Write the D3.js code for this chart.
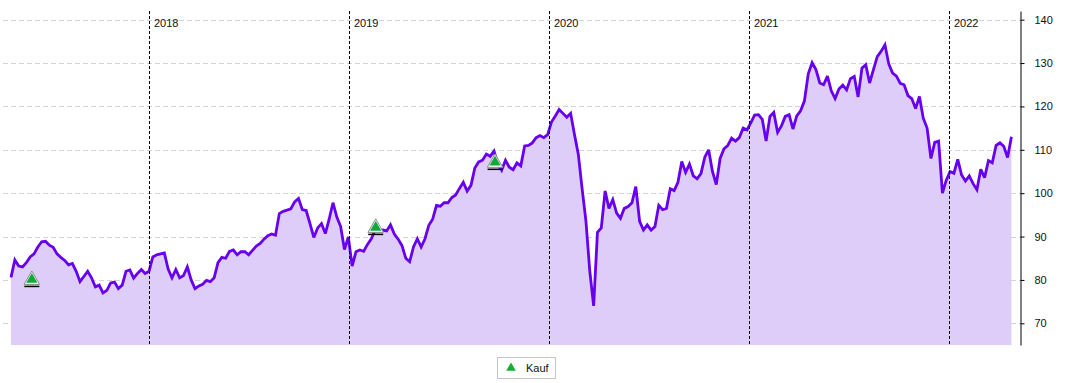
<!DOCTYPE html>
<html>
<head>
<meta charset="utf-8">
<script src="https://cdn.jsdelivr.net/npm/d3@7"></script>
<style>
  body { margin: 0; background: #fff; }
  svg { display: block; font-family: "Liberation Sans", Arial, sans-serif; }
</style>
</head>
<body>
<svg id="chart" width="1065" height="383"></svg>
<script>
// weekly closes, first week starting 2017-04-24
const startDate = "2017-04-24";
const prices = [
  80.6, 84.6, 83.2, 83, 84, 85.3, 86, 87.6, 88.8, 88.9,
  88, 87.5, 86, 85.2, 84.5, 83.5, 83.8, 82, 79.6, 80.8,
  82, 80.5, 78.4, 78.8, 77, 77.6, 79.3, 79.5, 78, 78.8,
  82, 82.3, 80.4, 81.5, 82.4, 81.5, 82, 85.3, 85.8, 86,
  86.2, 82.5, 80.5, 82.4, 80.5, 81, 83, 80, 78, 78.6,
  79, 79.9, 79.6, 80.5, 84, 85.2, 85, 86.6, 86.9, 85.8,
  86.5, 86.5, 85.8, 86.8, 87.8, 88.4, 89.4, 90.2, 90.6, 90.3,
  95.3, 95.8, 96.1, 96.4, 98, 98.8, 96.2, 96, 93, 89.8,
  92, 93, 90.7, 94, 97.8, 94.5, 92.3, 87, 89.9, 83.2,
  86.5, 86.9, 86.6, 88.2, 89.5, 91.5, 91.3, 91.5, 91.3, 92.7,
  90.6, 89.4, 87.9, 85, 84.2, 87.6, 89.5, 87.6, 89.5, 92.6,
  94, 97.2, 97, 97.8, 97.8, 99, 99.6, 101.1, 102.5, 100.5,
  101.8, 105.8, 107.2, 107.6, 109, 108.5, 109.7, 106.8, 105.3, 107.6,
  106, 105.4, 107, 106.3, 110.9, 111, 111.6, 112.8, 113.3, 112.8,
  113.5, 116.4, 117.8, 119.3, 118.4, 117.5, 118.4, 113.5, 109, 101,
  93.5, 82, 74, 91, 92, 100.5, 96.5, 98.5, 95.4, 94.2,
  96.5, 96.9, 97.8, 101.5, 93.5, 91.5, 92.7, 91.5, 92.3, 97.2,
  96.2, 96.5, 101, 100.6, 102.5, 107.3, 104.8, 106.7, 104, 103.3,
  104.5, 108.3, 110, 105, 102, 108, 110.2, 111, 112.7, 112,
  112.8, 115, 114.6, 116.2, 118, 118.1, 117, 112, 117.7, 118.6,
  114, 115.5, 117.7, 118.1, 114.8, 117.8, 119, 121.3, 127.5, 130.1,
  128.5, 125.4, 125, 127, 123.6, 121.8, 124, 124.9, 123.8, 126.4,
  126.9, 122.2, 128.8, 129.6, 125.4, 128.5, 131.5, 132.7, 134.2, 129.8,
  127.7, 127, 125.3, 125, 122.5, 121.8, 119.5, 122.3, 117.3, 115,
  108, 111.7, 112, 100, 103, 105, 104.6, 107.8, 104.2, 102.8,
  104, 102.2, 100.8, 105.5, 103.6, 107.5, 107, 111, 111.6, 110.8,
  108.2, 113
];

// buy signals
const buyDates = ["2017-06-01", "2019-02-19", "2019-09-25"];
const buyValues = [80, 92, 107];

const yearLabels = ["2018", "2019", "2020", "2021", "2022"];
const yTicks = [70, 80, 90, 100, 110, 120, 130, 140];
const legendLabel = "Kauf";

const parse = d3.utcParse("%Y-%m-%d");
const start = parse(startDate);
const series = prices.map((v, i) => ({ date: d3.utcWeek.offset(start, i), value: v }));
const buys = buyDates.map((d, i) => ({ date: parse(d), value: buyValues[i] }));

const svg = d3.select("#chart");
const lineColor = "#6800f0";
const fillColor = "#dfcdf9";

const plotLeft = 3, plotRight = 1020, plotTop = 11, plotBottom = 345;

const x = d3.scaleUtc()
    .domain([parse("2018-01-01"), parse("2022-01-01")])
    .range([149, 949]);

const y = d3.scaleLinear()
    .domain([65, 142])
    .range([plotBottom, plotTop]);

// horizontal grid
svg.append("g")
    .selectAll("line")
    .data(yTicks)
    .enter()
    .append("line")
    .attr("x1", plotLeft)
    .attr("x2", plotRight)
    .attr("y1", d => Math.round(y(d)) + 0.5)
    .attr("y2", d => Math.round(y(d)) + 0.5)
    .attr("stroke", "#d4d4d4")
    .attr("stroke-dasharray", "5,3");

// area + line
const area = d3.area()
    .x(d => x(d.date))
    .y0(plotBottom)
    .y1(d => y(d.value));

const line = d3.line()
    .x(d => x(d.date))
    .y(d => y(d.value));

svg.append("path")
    .datum(series)
    .attr("fill", fillColor)
    .attr("d", area);

svg.append("path")
    .datum(series)
    .attr("fill", "none")
    .attr("stroke", lineColor)
    .attr("stroke-width", 2.8)
    .attr("stroke-linejoin", "miter")
    .attr("stroke-miterlimit", 3)
    .attr("d", line);

// year separators
const years = yearLabels.map(t => parse(t + "-01-01"));
const yearGroup = svg.append("g");
yearGroup.selectAll("line")
    .data(years)
    .enter()
    .append("line")
    .attr("x1", d => Math.round(x(d)) + 0.5)
    .attr("x2", d => Math.round(x(d)) + 0.5)
    .attr("y1", plotTop)
    .attr("y2", plotBottom)
    .attr("stroke", "#000")
    .attr("stroke-dasharray", "3,2");
yearGroup.selectAll("text")
    .data(years)
    .enter()
    .append("text")
    .attr("x", d => Math.round(x(d)) + 5)
    .attr("y", 27)
    .attr("font-size", "11px")
    .attr("fill", "#111")
    .text((d, i) => yearLabels[i]);

// buy markers
const markGroup = svg.append("g");
const marks = markGroup.selectAll("g")
    .data(buys)
    .enter()
    .append("g")
    .attr("transform", d => `translate(${x(d.date)},${y(d.value)})`);
marks.append("path")
    .attr("d", d3.symbol().type(d3.symbolTriangle).size(105))
    .attr("fill", "#fff")
    .attr("stroke", "#8a8a8a")
    .attr("stroke-width", 1);
marks.append("path")
    .attr("d", d3.symbol().type(d3.symbolTriangle).size(55))
    .attr("transform", "translate(0,-0.5)")
    .attr("fill", "#10a83a");
marks.append("line")
    .attr("x1", -7.5)
    .attr("x2", 7.5)
    .attr("y1", 6.5)
    .attr("y2", 6.5)
    .attr("stroke", "#000")
    .attr("stroke-width", 1.5);

// right axis
const axis = svg.append("g")
    .attr("transform", `translate(${plotRight + 0.5},0)`)
    .call(d3.axisRight(y).tickValues(yTicks).tickSize(4).tickSizeOuter(0).tickPadding(10));
axis.select(".domain").attr("stroke", "#000");
axis.selectAll(".tick line").attr("stroke", "#000");
axis.selectAll(".tick text")
    .attr("font-size", "11px")
    .attr("font-family", "Liberation Sans, Arial, sans-serif")
    .attr("fill", "#111");

// legend
const legend = svg.append("g").attr("transform", "translate(497,357)");
legend.append("rect")
    .attr("x", 0.5)
    .attr("y", 0.5)
    .attr("width", 58)
    .attr("height", 21)
    .attr("fill", "#fff")
    .attr("stroke", "#c4c4c4");
legend.append("path")
    .attr("d", d3.symbol().type(d3.symbolTriangle).size(40))
    .attr("transform", "translate(14,11)")
    .attr("fill", "#10b030");
legend.append("text")
    .attr("x", 29)
    .attr("y", 15)
    .attr("font-size", "11px")
    .attr("fill", "#111")
    .text(legendLabel);
</script>
</body>
</html>
